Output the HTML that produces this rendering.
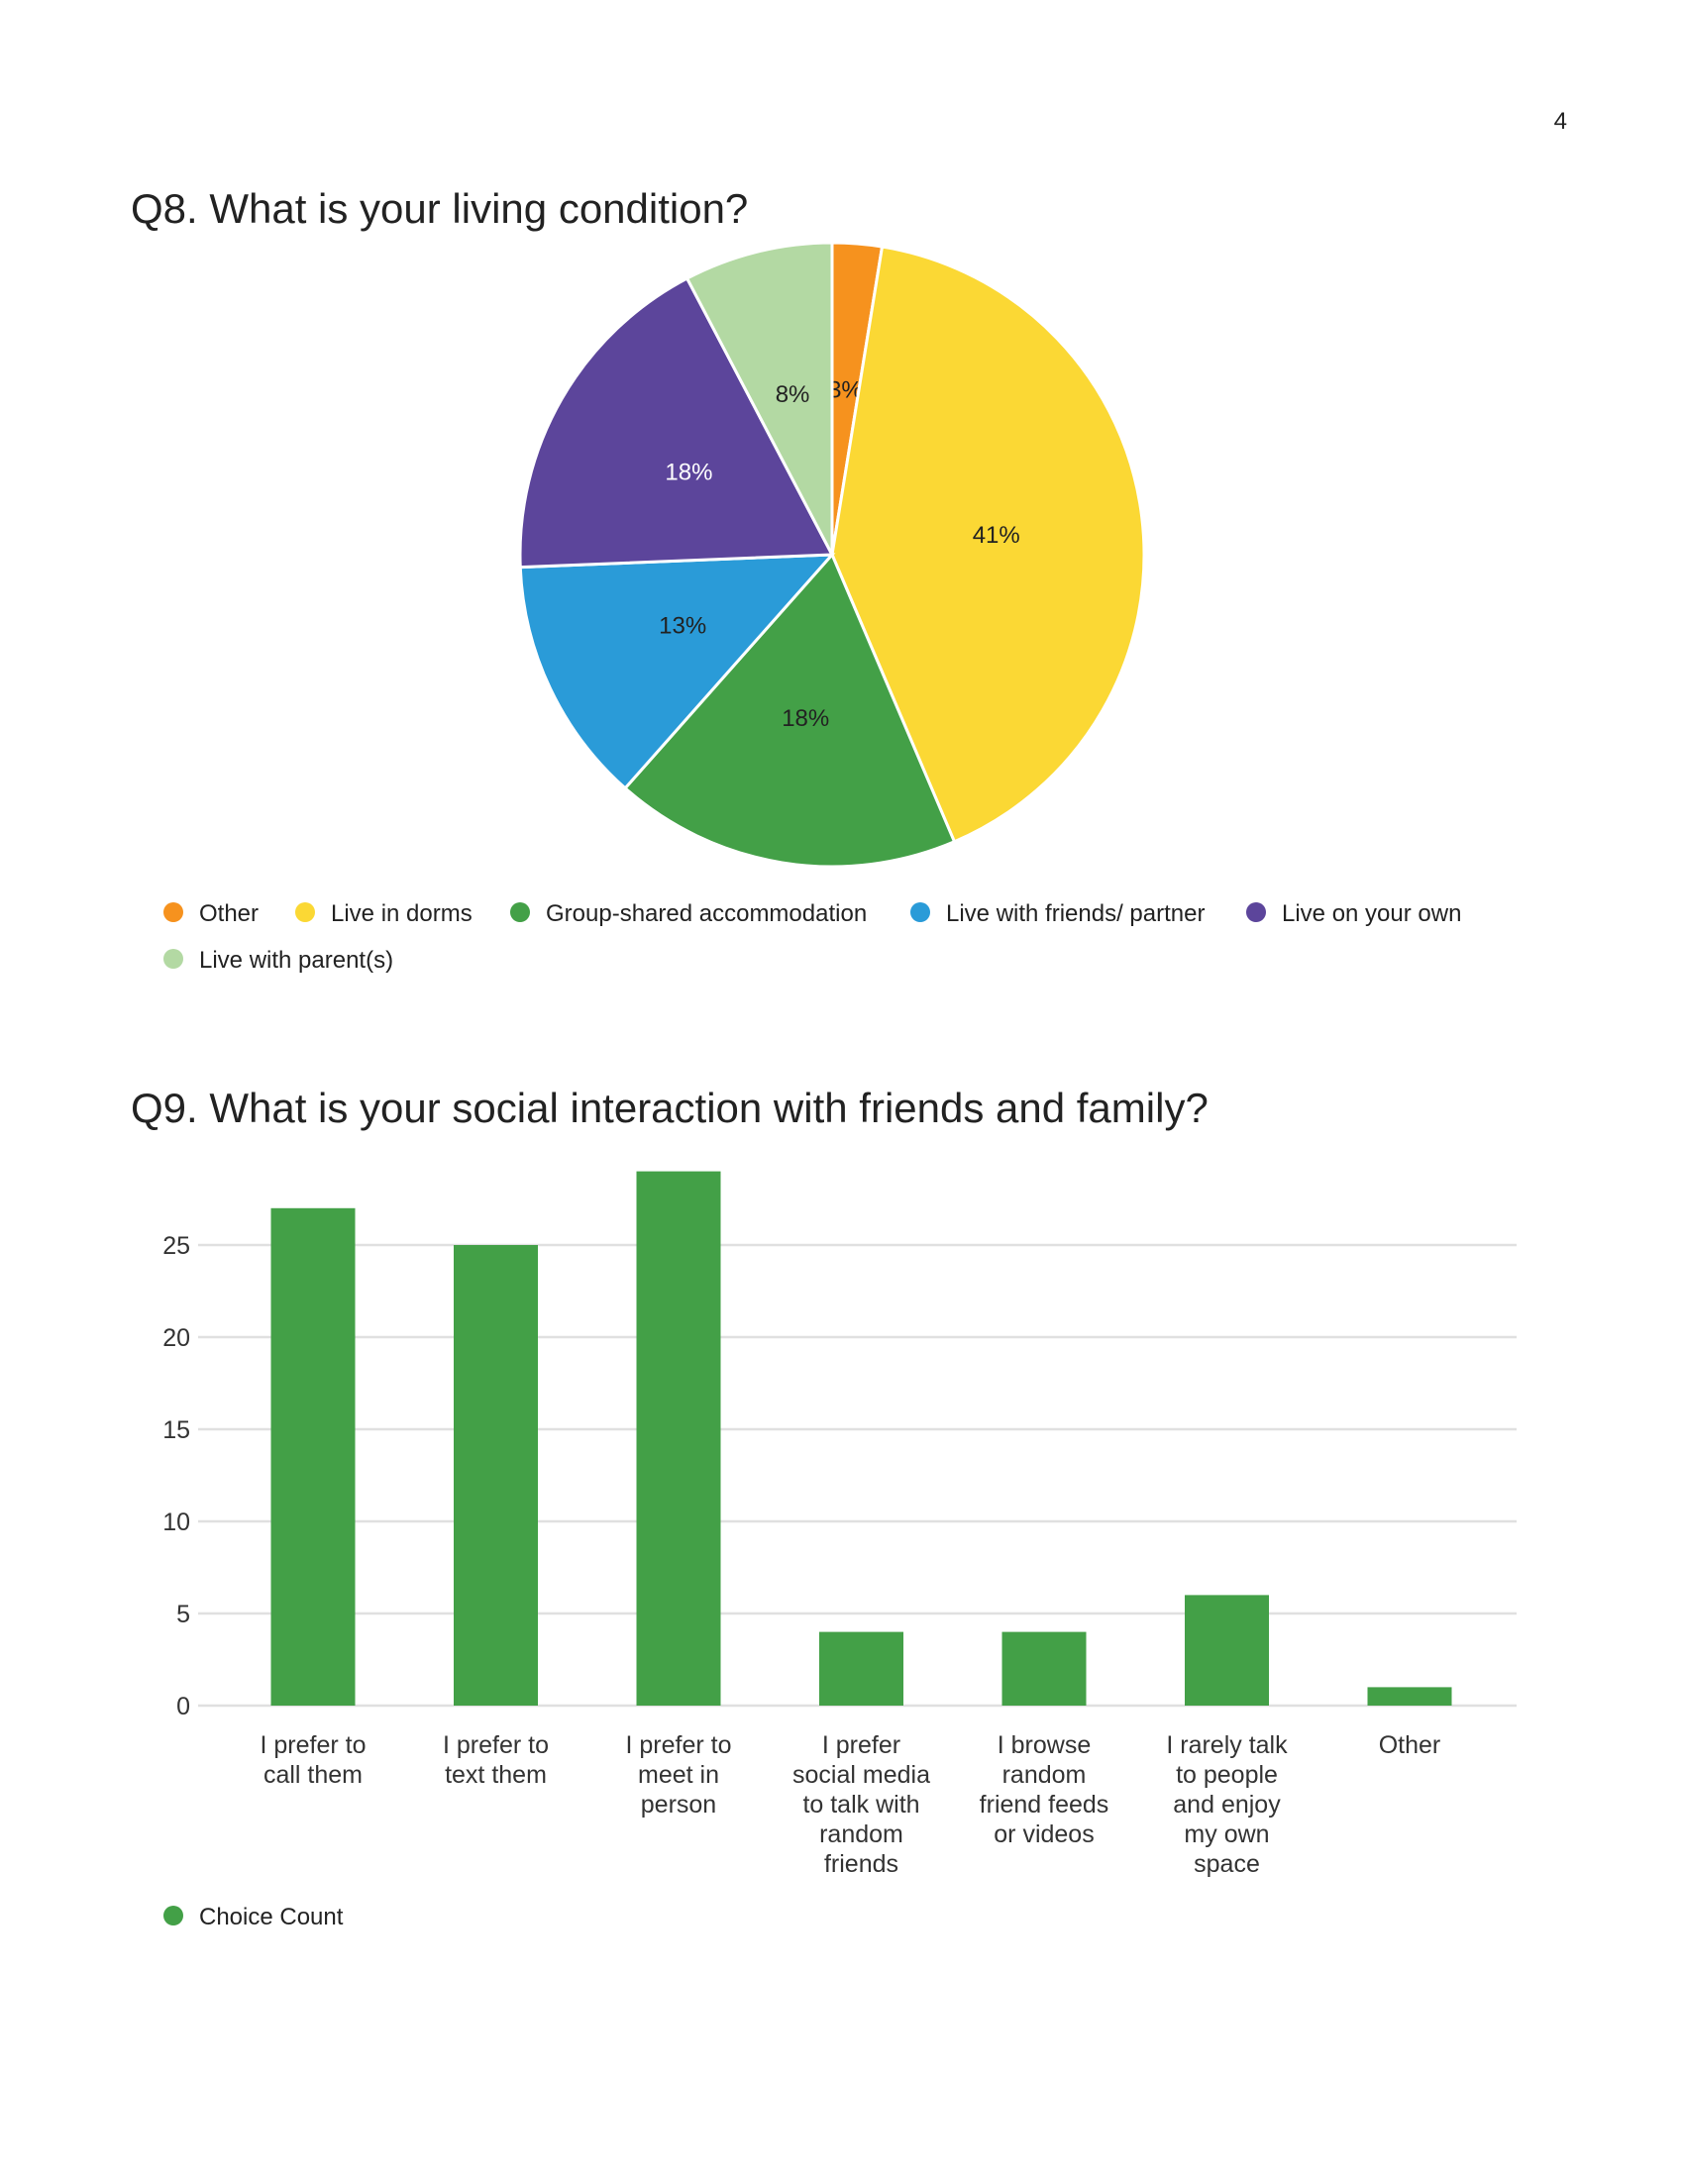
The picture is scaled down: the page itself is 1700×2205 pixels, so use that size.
<!DOCTYPE html>
<html><head><meta charset="utf-8"><style>
body{margin:0;background:#fff;}
svg text{font-family:"Liberation Sans",sans-serif;}
</style></head><body>
<svg width="1700" height="2200" viewBox="0 0 1700 2200" xmlns="http://www.w3.org/2000/svg">
<rect width="1700" height="2200" fill="#fff"/>
<text x="1582" y="130" font-size="24" fill="#222" text-anchor="end">4</text>
<text x="132" y="225" font-size="42" fill="#222">Q8. What is your living condition?</text>
<g id="pie"></g>
<g id="pieLegend"></g>
<text x="132" y="1133" font-size="42" fill="#222">Q9. What is your social interaction with friends and family?</text>
<g id="bar"></g>
<circle cx="175" cy="1934" r="10" fill="#43a047"/>
<text x="201" y="1943" font-size="24" fill="#222">Choice Count</text>
</svg>
<script>
const pieLabels=["Other","Live in dorms","Group-shared accommodation","Live with friends/ partner","Live on your own","Live with parent(s)"];
const pieValues=[1,16,7,5,7,3];
const pieColors=["#f6921e","#fbd834","#43a047","#2a9bd8","#5c459b","#b3d9a3"];
const pieTextColors=["#222","#222","#222","#222","#fff","#222"];
const barCategories=[["I prefer to","call them"],["I prefer to","text them"],["I prefer to","meet in","person"],["I prefer","social media","to talk with","random","friends"],["I browse","random","friend feeds","or videos"],["I rarely talk","to people","and enjoy","my own","space"],["Other"]];
const barValues=[27,25,29,4,4,6,1];
const yTicks=[0,5,10,15,20,25];

const NS="http://www.w3.org/2000/svg";
function mk(tag,attrs,parent){const e=document.createElementNS(NS,tag);for(const k in attrs)e.setAttribute(k,attrs[k]);parent.appendChild(e);return e;}

// Pie
const pie=document.getElementById('pie');
const cx=840,cy=560,r=315;
const total=pieValues.reduce((a,b)=>a+b,0);
let acc=0;
function pt(frac,rad){const a=frac*2*Math.PI;return [cx+rad*Math.sin(a),cy-rad*Math.cos(a)];}
pieValues.forEach((v,i)=>{
  const f0=acc/total,f1=(acc+v)/total;acc+=v;
  const p0=pt(f0,r),p1=pt(f1,r);
  const large=(f1-f0)>0.5?1:0;
  const p=mk('path',{d:`M${cx},${cy} L${p0[0]},${p0[1]} A${r},${r} 0 ${large} 1 ${p1[0]},${p1[1]} Z`,fill:pieColors[i],stroke:'#fff','stroke-width':3},pie);
  
  
  const lp=pt((f0+f1)/2,r*0.53);
  const t=mk('text',{x:lp[0],y:lp[1]+8,'font-size':24,fill:pieTextColors[i],'text-anchor':'middle'},pie);
  t.textContent=Math.round(v/total*100)+'%';
  
  
});
// Pie legend
const lg=document.getElementById('pieLegend');
const legPos=[[175,921],[308,921],[525,921],[929,921],[1268,921],[175,968]];
pieLabels.forEach((l,i)=>{
  const c=mk('circle',{cx:legPos[i][0],cy:legPos[i][1],r:10,fill:pieColors[i]},lg);
  
  
  const t=mk('text',{x:legPos[i][0]+26,y:legPos[i][1]+9,'font-size':24,fill:'#222'},lg);
  t.textContent=l;
  
  
});
// Bar
const bar=document.getElementById('bar');
const y0=1722,unit=18.6,x0=316,step=184.5,bw=85;
const yScale=v=>y0-v*unit;
const xScale=i=>x0+i*step;
yTicks.forEach(v=>{
  const g=mk('line',{x1:200,x2:1531,y1:yScale(v),y2:yScale(v),stroke:'#e0e0e0','stroke-width':2.5},bar);
  
  
  const t=mk('text',{x:192,y:yScale(v)+9,'font-size':25,fill:'#333','text-anchor':'end'},bar);
  t.textContent=v;
  
  
});
barValues.forEach((v,i)=>{
  const b=mk('rect',{x:xScale(i)-bw/2,y:yScale(v),width:bw,height:v*unit,fill:'#43a047'},bar);
  
  
  barCategories[i].forEach((line,j)=>{
    const t=mk('text',{x:xScale(i),y:1753+17+j*30,'font-size':25,fill:'#333','text-anchor':'middle'},bar);
    t.textContent=line;
    
    
  });
});
</script>
</body></html>
